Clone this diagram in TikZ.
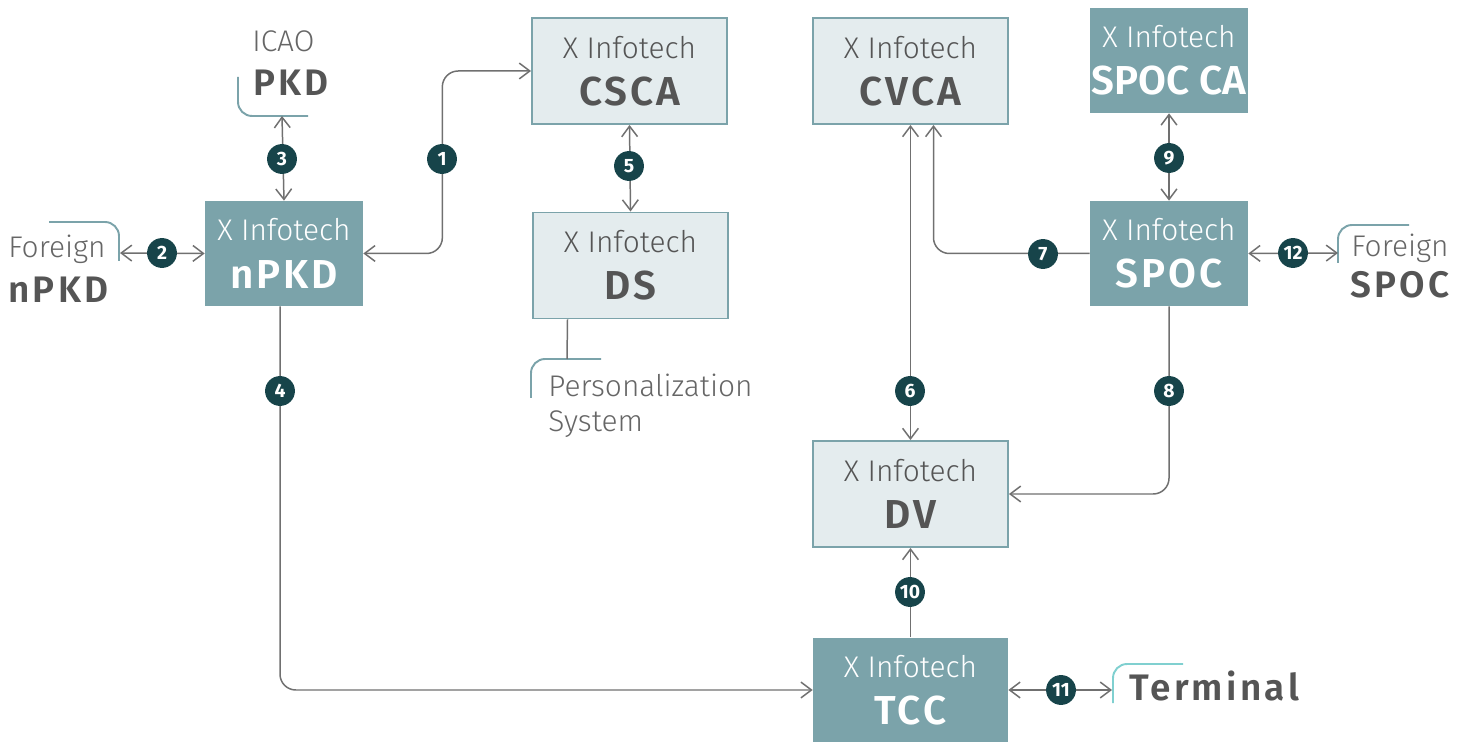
\documentclass[tikz,border=0pt]{standalone}
\usepackage{fontspec}
\setmainfont{Fira Sans}
\IfFontExistsTF{Fira Sans Light}{\newfontfamily\slimfont{Fira Sans Light}}{\newfontfamily\slimfont{Fira Sans}}
\IfFontExistsTF{Fira Sans SemiBold}{\newfontfamily\semifont{Fira Sans SemiBold}}{\newfontfamily\semifont{Fira Sans}[UprightFont=*-Bold]}
\usetikzlibrary{arrows.meta,calc}

\definecolor{boxdark}{HTML}{7BA3AA}
\definecolor{boxlight}{HTML}{E4ECEE}
\definecolor{badgecol}{HTML}{17444A}
\definecolor{linecol}{HTML}{707070}
\definecolor{namecol}{HTML}{555555}
\definecolor{slimcol}{HTML}{666666}
\definecolor{termcol}{HTML}{80D0D0}

\newcommand{\slimsz}{\slimfont\fontsize{17}{27}\selectfont}
\newcommand{\namesz}{\semifont\fontsize{23}{27}\selectfont\addfontfeature{LetterSpace=7}}
\newcommand{\outsz}{\semifont\fontsize{21}{27}\selectfont\addfontfeature{LetterSpace=9}}

\begin{document}
\begin{tikzpicture}[x=0.02cm, y=-0.02cm,
    lightbox/.style={draw=boxdark, line width=1.1pt, fill=boxlight, text=namecol,
        minimum width=3.9cm, minimum height=2.12cm, align=center, inner sep=0pt,
        font=\fontsize{17}{27}\selectfont},
    darkbox/.style={fill=boxdark, text=white,
        minimum width=3.16cm, minimum height=2.1cm, align=center, inner sep=0pt,
        font=\fontsize{17}{27}\selectfont},
    badge/.style={circle, fill=badgecol, text=white, inner sep=0pt, minimum size=17pt,
        font=\bfseries\fontsize{11}{11}\selectfont},
    link/.style={draw=linecol, line width=0.85pt, rounded corners=9pt,
        -{Straight Barb[length=6pt, width=9pt]}},
    dlink/.style={link, {Straight Barb[length=6pt, width=9pt]}-{Straight Barb[length=6pt, width=9pt]}},
    bracket/.style={draw=boxdark, line width=1.1pt, rounded corners=8pt},
    slimtxt/.style={anchor=base west, inner sep=0pt, text=slimcol, font=\slimsz},
    outtxt/.style={anchor=base west, inner sep=0pt, text=namecol, font=\outsz}]
    \useasboundingbox (0,0) rectangle (1467,742);

    % boxes
    \node[lightbox] (csca) at (629.5,71) {{\slimsz X Infotech}\\{\namesz CSCA}};
    \node[lightbox] (ds) at (630.5,265.5) {{\slimsz X Infotech}\\{\namesz DS}};
    \node[lightbox] (cvca) at (910.5,71) {{\slimsz X Infotech}\\{\namesz CVCA}};
    \node[lightbox] (dv) at (910.5,494) {{\slimsz X Infotech}\\{\namesz DV}};
    \node[darkbox] (npkd) at (284,253.5) {{\slimsz X Infotech}\\{\namesz nPKD}};
    \node[darkbox] (spocca) at (1169,60.5) {{\slimsz X Infotech}\\{\semifont\fontsize{23}{27}\selectfont SPOC CA}};
    \node[darkbox] (spoc) at (1169,253.5) {{\slimsz X Infotech}\\{\namesz SPOC}};
    \node[darkbox, minimum width=3.9cm] (tcc) at (910.5,690) {{\slimsz X Infotech}\\{\namesz TCC}};

    % outside parties
    \coordinate (pkd) at (282,116);
    \coordinate (fnpkd) at (120,253);
    \coordinate (pers) at (567,359);
    \coordinate (fspoc) at (1338,253);
    \coordinate (term) at (1112,690);

    \draw[bracket] (238,77) -- (238,116) -- (308,116);
    \draw[bracket] (49,222) -- (119,222) -- (119,261);
    \draw[bracket] (601,359) -- (531,359) -- (531,398);
    \draw[bracket] (1409,225) -- (1338,225) -- (1338,263);
    \draw[bracket, draw=termcol] (1183,664) -- (1113,664) -- (1113,703);

    \node[slimtxt] (icao) at (252,52) {ICAO};
    \node[outtxt] (pkdtxt) at (253,96) {PKD};
    \node[slimtxt] (fortxt) at (8,258) {Foreign};
    \node[outtxt] (npkdtxt) at (8,303) {nPKD};
    \node[slimtxt] (perstxt) at (548,397) {Personalization};
    \node[slimtxt] (systxt) at (548,432) {System};
    \node[slimtxt] (fortxtb) at (1351,257) {Foreign};
    \node[outtxt] (spoctxt) at (1350,298) {SPOC};
    \node[outtxt] (termtxt) at (1129,701) {Terminal};

    % connectors
    \draw[dlink] (npkd.east) -- ++(79,0) |- (csca.west);
    \draw[dlink] (fnpkd) -- (npkd.west);
    \draw[dlink] (pkd) -- (npkd.north);
    \draw[link] ($(npkd.south)+(-4,0)$) |- (tcc.west);
    \draw[dlink] (csca.south) -- (ds.north);
    \draw[draw=linecol, line width=0.85pt] ($(ds.south)+(-63,0)$) -- (pers);
    \draw[dlink] (cvca.south) -- (dv.north);
    \draw[link] (spoc.west) -| ($(cvca.south)+(23,0)$);
    \draw[link] (spoc.south) |- (dv.east);
    \draw[dlink] (spocca.south) -- (spoc.north);
    \draw[link] (tcc.north) -- (dv.south);
    \draw[dlink] (tcc.east) -- (term);
    \draw[dlink] (spoc.east) -- (fspoc);

    % step numbers
    \node[badge] (b1) at (442,159) {1};
    \node[badge] (b2) at (162,253) {2};
    \node[badge] (b3) at (282,159) {3};
    \node[badge] (b4) at (280,391) {4};
    \node[badge] (b5) at (629,166) {5};
    \node[badge] (b6) at (910,391) {6};
    \node[badge] (b7) at (1043,254) {7};
    \node[badge] (b8) at (1169,391) {8};
    \node[badge] (b9) at (1169,158) {9};
    \node[badge] (b10) at (910,592) {10};
    \node[badge] (b11) at (1061,690) {11};
    \node[badge] (b12) at (1293,253) {12};
\end{tikzpicture}
\end{document}
